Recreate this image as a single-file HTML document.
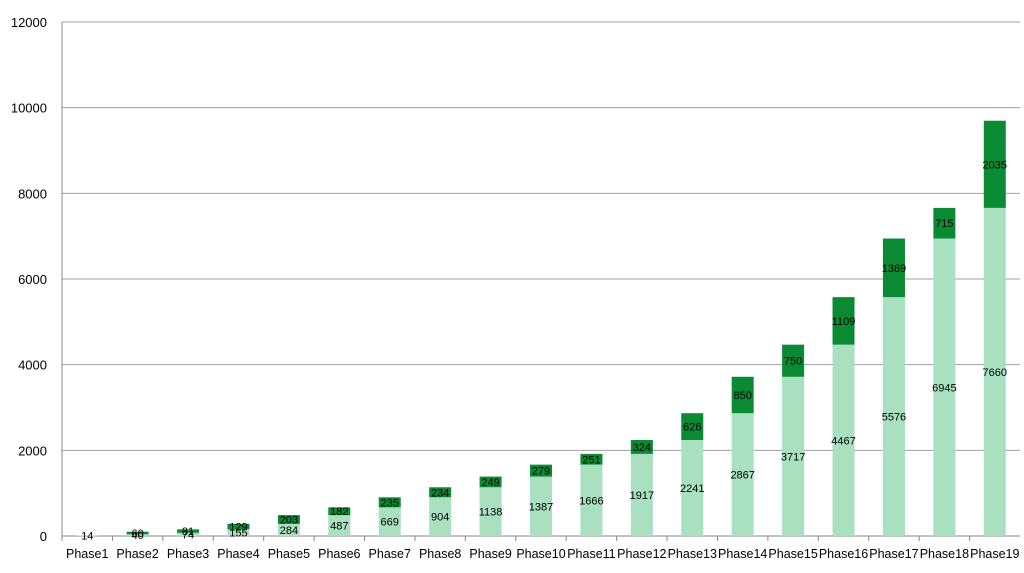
<!DOCTYPE html>
<html><head><meta charset="utf-8"><style>
body{margin:0;background:#fff;font-family:"Liberation Sans",sans-serif}
</style></head><body>
<svg id="chart" width="1024" height="568" xmlns="http://www.w3.org/2000/svg"></svg>
<script>
const categories=["Phase1","Phase2","Phase3","Phase4","Phase5","Phase6","Phase7","Phase8","Phase9","Phase10","Phase11","Phase12","Phase13","Phase14","Phase15","Phase16","Phase17","Phase18","Phase19"];
const baseValues=[14,40,74,155,284,487,669,904,1138,1387,1666,1917,2241,2867,3717,4467,5576,6945,7660];
const addValues=[0,60,81,129,203,182,235,234,249,279,251,324,626,850,750,1109,1369,715,2035];
const yTicks=[0,2000,4000,6000,8000,10000,12000];
const svg=document.getElementById('chart');const NS='http://www.w3.org/2000/svg';
const L=62,R=1020,T=22,B=536,yMax=12000;
const y=v=>B-(v/yMax)*(B-T);
const step=(R-L)/categories.length;
const x=i=>L+step*(i+0.5);
function mk(t,a,txt){const e=document.createElementNS(NS,t);for(const k in a)e.setAttribute(k,a[k]);if(txt!==undefined)e.textContent=txt;svg.appendChild(e);return e;}
yTicks.forEach(v=>{
 if(v>0){const g=mk('line',{x1:L,x2:R,y1:y(v),y2:y(v),stroke:'#a0a0a0','stroke-width':1});
 
 }
 const t=mk('text',{x:47,y:y(v)+5,'text-anchor':'end','font-size':13,fill:'#000'},v);
 
 
});
const ax=mk('line',{x1:L,x2:L,y1:T,y2:B,stroke:'#888'});


const bx=mk('line',{x1:L,x2:R,y1:B,y2:B,stroke:'#888'});


const bw=22;
categories.forEach((c,i)=>{
 const tk=mk('line',{x1:L+step*i,x2:L+step*i,y1:B,y2:B+5,stroke:'#888'});
 
 
 const b=baseValues[i],a=addValues[i];
 const r1=mk('rect',{x:x(i)-bw/2,y:y(b),width:bw,height:B-y(b),fill:'#a8e0c0'});
 
 
 const r2=mk('rect',{x:x(i)-bw/2,y:y(b+a),width:bw,height:y(b)-y(b+a),fill:'#0a8a32'});
 
 
 const l1=mk('text',{x:x(i),y:(y(b)+B)/2+4,'text-anchor':'middle','font-size':11,fill:'#000'},b);
 
 
 if(a>0){const l2=mk('text',{x:x(i),y:(y(b)+y(b+a))/2+4,'text-anchor':'middle','font-size':11,fill:'#000'},a);
 
 }
 const xl=mk('text',{x:x(i),y:558,'text-anchor':'middle','font-size':12.5,fill:'#000'},c);
 
 
});
</script>
</body></html>
